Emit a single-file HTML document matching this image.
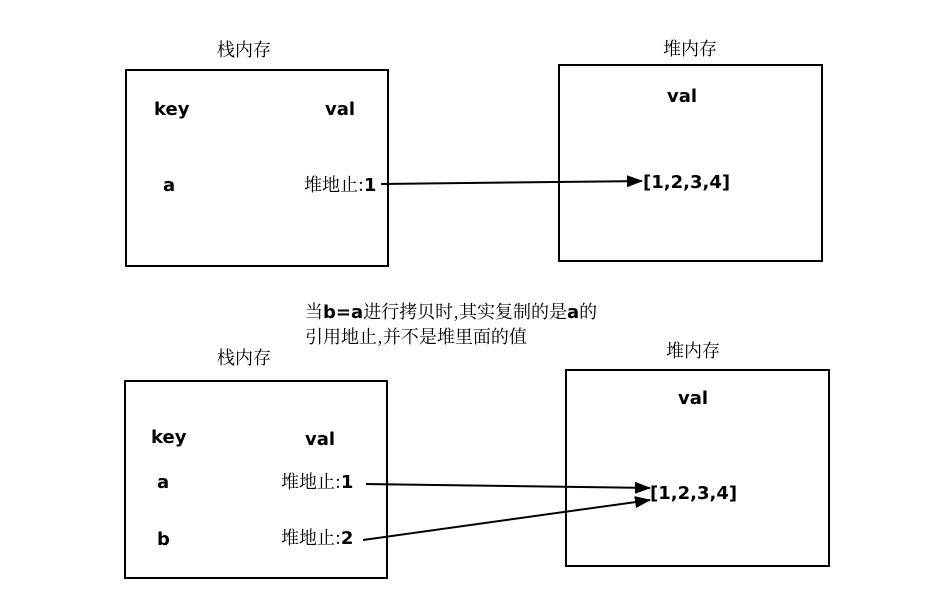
<!DOCTYPE html>
<html><head><meta charset="utf-8"><style>
html,body{margin:0;padding:0;background:#fff}
svg{display:block}
.c{font-family:"Noto Serif CJK SC","Liberation Serif",serif;font-size:18px;fill:#000}
.b{font-family:"DejaVu Sans","Liberation Sans",sans-serif;font-weight:bold;font-size:18px;fill:#000}
</style></head><body>
<svg width="930" height="616" viewBox="0 0 930 616" xmlns="http://www.w3.org/2000/svg">
<defs><marker id="ar" markerWidth="16" markerHeight="12" refX="15" refY="6" orient="auto" markerUnits="userSpaceOnUse"><path d="M0,0 L16,6 L0,12 z" fill="#000"/></marker></defs>
<g fill="none" stroke="#000" stroke-width="2">
<rect x="126" y="70" width="262" height="196"/>
<rect x="559" y="65" width="263" height="196"/>
<rect x="125" y="381" width="262" height="197"/>
<rect x="566" y="370" width="263" height="196"/>
</g>
<g stroke="#000" stroke-width="2">
<line x1="381" y1="184" x2="642" y2="181" marker-end="url(#ar)"/>
<line x1="366" y1="484" x2="650" y2="488" marker-end="url(#ar)"/>
<line x1="363" y1="540" x2="650" y2="500" marker-end="url(#ar)"/>
</g>
<text class="c" x="217" y="56">栈内存</text>
<text class="b" x="154" y="115">key</text>
<text class="b" x="325" y="115">val</text>
<text class="b" x="163" y="191">a</text>
<text x="304" y="191"><tspan class="c">堆地止:</tspan><tspan class="b">1</tspan></text>
<text class="c" x="663" y="55">堆内存</text>
<text class="b" x="667" y="102">val</text>
<text class="b" x="643" y="188">[1,2,3,4]</text>
<text x="305" y="318"><tspan class="c">当</tspan><tspan class="b">b=a</tspan><tspan class="c">进行拷贝时,其实复制的是</tspan><tspan class="b">a</tspan><tspan class="c">的</tspan></text>
<text class="c" x="305" y="343">引用地止,并不是堆里面的值</text>
<text class="c" x="217" y="364">栈内存</text>
<text class="b" x="151" y="443">key</text>
<text class="b" x="305" y="445">val</text>
<text class="b" x="157" y="488">a</text>
<text x="281" y="488"><tspan class="c">堆地止:</tspan><tspan class="b">1</tspan></text>
<text class="b" x="157" y="545">b</text>
<text x="281" y="544"><tspan class="c">堆地止:</tspan><tspan class="b">2</tspan></text>
<text class="c" x="666" y="357">堆内存</text>
<text class="b" x="678" y="404">val</text>
<text class="b" x="650" y="499">[1,2,3,4]</text>
</svg>
</body></html>
